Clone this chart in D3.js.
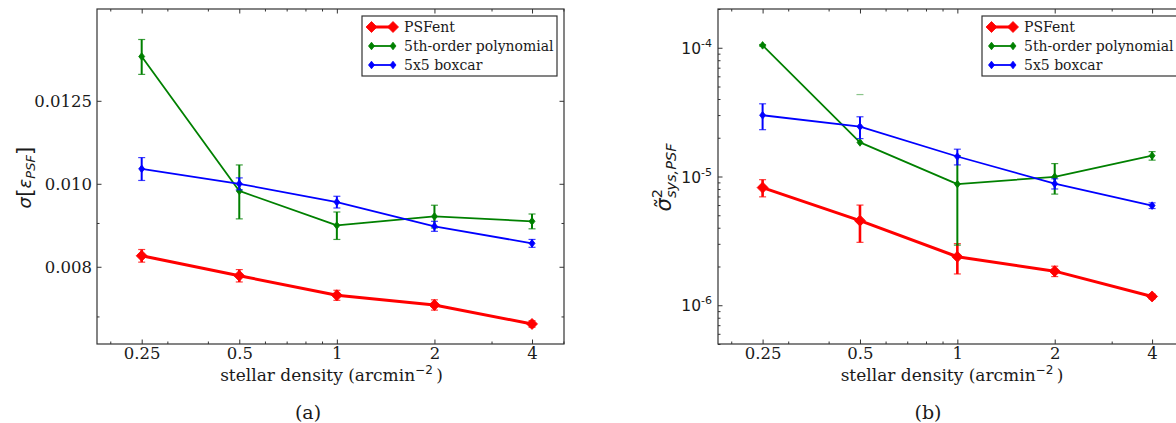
<!DOCTYPE html>
<html><head><meta charset="utf-8">
<script src="https://cdn.jsdelivr.net/npm/d3@7"></script>
<style>body{margin:0;background:#fff} svg{display:block}</style>
</head><body><svg id="c" width="1176" height="423"></svg>
<script>
// ---------- data ----------
const densities = [0.25, 0.5, 1, 2, 4];
const densityLabels = ["0.25", "0.5", "1", "2", "4"];
const densityMinorTicks = [0.2, 0.3, 0.4, 0.6, 0.7, 0.8, 0.9, 3, 5];
const seriesNames = ["PSFent", "5th-order polynomial", "5x5 boxcar"];

// panel (a): sigma[eps_PSF]
const psfentSigma    = [0.00824, 0.00781, 0.00741, 0.00722, 0.00686];
const psfentSigmaErr = [0.00014, 0.00013, 0.00010, 0.00010, 0.00006];
const polySigma      = [0.01408, 0.00981, 0.00894, 0.00916, 0.00904];
const polySigmaErr   = [0.00066, 0.00071, 0.00033, 0.00028, 0.00018];
const boxcarSigma    = [0.01041, 0.01000, 0.00952, 0.00892, 0.00852];
const boxcarSigmaErr = [0.00032, 0.00016, 0.00015, 0.00012, 0.00009];
const sigmaTicks      = [0.008, 0.010, 0.0125];
const sigmaTickLabels = ["0.008", "0.010", "0.0125"];
const sigmaMinorTicks = [0.007, 0.009];

// panel (b): sigma~^2_sys,PSF
const psfentSys    = [8.2e-6, 4.54e-6, 2.38e-6, 1.84e-6, 1.17e-6];
const psfentSysErr = [1.25e-6, 1.46e-6, 0.63e-6, 0.17e-6, 0.05e-6];
const polySys      = [1.044e-4, 1.84e-5, 8.73e-6, 9.95e-6, 1.45e-5];
const polySysErr   = [1.5e-6, 2.49e-5, 5.8e-6, 2.65e-6, 1.1e-6];
const boxcarSys    = [2.99e-5, 2.44e-5, 1.43e-5, 8.8e-6, 5.94e-6];
const boxcarSysErr = [6.8e-6, 4.7e-6, 2.0e-6, 0.8e-6, 0.3e-6];
const sysTicks = [1e-6, 1e-5, 1e-4];
const sysTickExponents = ["-6", "-5", "-4"];

// ---------- drawing ----------
const svg = d3.select('#c');
svg.append('rect').attr('width', 1176).attr('height', 423).attr('fill', '#fff');
const serif = "'DejaVu Serif', serif";
const sans = "'DejaVu Sans', sans-serif";
const axisColor = '#333';
const textColor = '#1a1a1a';
const colors = ['#ff0000', '#008000', '#0000ff'];
const styles = [
  {lw: 3, elw: 2.6, rx: 5.5, ry: 5.5},
  {lw: 1.8, elw: 2, rx: 3, ry: 3.8},
  {lw: 1.8, elw: 2, rx: 3, ry: 3.8}
];

function diamond(cx, cy, rx, ry) {
  return `M${cx},${cy - ry}L${cx + rx},${cy}L${cx},${cy + ry}L${cx - rx},${cy}Z`;
}

function drawPanel(p) {
  const g = svg.append('g');
  const x = d3.scaleLog().base(2).domain([0.182, 5.02]).range([p.x0, p.x1]);
  const y = d3.scaleLog().domain(p.yDomain).range([p.y1, p.y0]);

  function axisG(axis, tx, ty) {
    const a = g.append('g').attr('transform', `translate(${tx},${ty})`).call(axis);
    a.select('.domain').remove();
    a.selectAll('line').attr('stroke', axisColor).attr('stroke-width', 1);
    a.attr('font-family', serif).attr('font-size', 16.5);
    a.selectAll('text').attr('fill', textColor);
    return a;
  }
  // x axis bottom and top
  axisG(d3.axisBottom(x).tickValues(densities).tickFormat((d, i) => densityLabels[i]).tickSize(-4.5).tickPadding(3.5), 0, p.y1);
  axisG(d3.axisBottom(x).tickValues(densityMinorTicks).tickFormat('').tickSize(-2.5), 0, p.y1);
  axisG(d3.axisTop(x).tickValues(densities).tickFormat('').tickSize(-4.5), 0, p.y0);
  axisG(d3.axisTop(x).tickValues(densityMinorTicks).tickFormat('').tickSize(-2.5), 0, p.y0);
  // y axis left and right
  const yl = d3.axisLeft(y).tickValues(p.yTicks).tickSize(-4.5).tickPadding(5);
  if (p.yTickLabels) yl.tickFormat((d, i) => p.yTickLabels[i]); else yl.tickFormat('');
  axisG(yl, p.x0, 0);
  axisG(d3.axisLeft(y).tickValues(p.yMinor).tickFormat('').tickSize(-2.5), p.x0, 0);
  axisG(d3.axisRight(y).tickValues(p.yTicks).tickFormat('').tickSize(-4.5), p.x1, 0);
  axisG(d3.axisRight(y).tickValues(p.yMinor).tickFormat('').tickSize(-2.5), p.x1, 0);

  if (p.yTickExponents) {
    p.yTicks.forEach((t, i) => {
      const tx = g.append('text').attr('x', p.x0 - 6).attr('y', y(t) + 6)
        .attr('text-anchor', 'end').attr('font-family', sans).attr('font-size', 15.5).attr('fill', textColor);
      tx.append('tspan').text('10');
      tx.append('tspan').attr('font-size', 11).attr('dy', -7).text(p.yTickExponents[i]);
    });
  }

  // frame
  g.append('rect').attr('x', p.x0).attr('y', p.y0).attr('width', p.x1 - p.x0).attr('height', p.y1 - p.y0)
    .attr('fill', 'none').attr('stroke', axisColor).attr('stroke-width', 1.2);

  // series
  const line = d3.line().x(d => x(d[0])).y(d => y(d[1]));
  p.series.forEach((s, si) => {
    const st = styles[si], col = colors[si];
    const sg = g.append('g');
    const pts = densities.map((d, i) => [d, s.values[i]]);
    sg.append('path').attr('d', line(pts)).attr('fill', 'none').attr('stroke', col)
      .attr('stroke-width', st.lw).attr('stroke-linejoin', 'round');
    // error bars
    densities.forEach((d, i) => {
      const v = s.values[i], e = s.errs[i];
      const cx = x(d);
      const hi = v + e, lo = v - e;
      const cw = 3.5;
      if (lo > 0) {
        sg.append('line').attr('x1', cx).attr('x2', cx).attr('y1', y(lo)).attr('y2', y(hi))
          .attr('stroke', col).attr('stroke-width', st.elw);
        sg.append('line').attr('x1', cx - cw).attr('x2', cx + cw).attr('y1', y(lo)).attr('y2', y(lo))
          .attr('stroke', col).attr('stroke-width', 1.2).attr('opacity', 0.75);
      }
      sg.append('line').attr('x1', cx - cw).attr('x2', cx + cw).attr('y1', y(hi)).attr('y2', y(hi))
        .attr('stroke', col).attr('stroke-width', 1.2).attr('opacity', lo > 0 ? 0.75 : 0.45);
    });
    pts.forEach(pt => {
      sg.append('path').attr('d', diamond(x(pt[0]), y(pt[1]), st.rx, st.ry)).attr('fill', col).attr('stroke', col).attr('stroke-width', 0.8);
    });
  });

  // legend
  const lw = 195, lh = 60;
  const lx = p.x1 - 7 - lw, ly = p.y0 + 7;
  const lg = g.append('g');
  lg.append('rect').attr('x', lx).attr('y', ly).attr('width', lw).attr('height', lh)
    .attr('fill', '#fff').attr('stroke', axisColor).attr('stroke-width', 1.2);
  seriesNames.forEach((name, i) => {
    const cy = ly + 11 + i * 19;
    const st = styles[i], col = colors[i];
    const hx0 = lx + 9.5, hx1 = lx + 31;
    lg.append('line').attr('x1', hx0).attr('x2', hx1).attr('y1', cy).attr('y2', cy).attr('stroke', col).attr('stroke-width', st.lw);
    [hx0, hx1].forEach(hx => lg.append('path').attr('d', diamond(hx, cy, st.rx, st.ry)).attr('fill', col).attr('stroke', col).attr('stroke-width', 0.8));
    lg.append('text').attr('x', lx + 42).attr('y', cy).attr('dy', '0.35em')
      .attr('font-family', serif).attr('font-size', 14).attr('fill', textColor).text(name);
  });

  // x label
  const xl = g.append('text').attr('x', (p.x0 + p.x1) / 2 + 1).attr('y', 381).attr('text-anchor', 'middle')
    .attr('font-family', serif).attr('font-size', 17).attr('fill', textColor);
  xl.append('tspan').text('stellar density (arcmin');
  xl.append('tspan').attr('font-family', sans).attr('font-size', 12).attr('dy', -7).text('\u22122');
  xl.append('tspan').attr('dy', 7).text('\u2009)');

  // y label
  p.ylabel(g.append('g').attr('transform', `translate(${p.ylx},${(p.y0 + p.y1) / 2 + 1})`).append('g').attr('transform', 'rotate(-90)'));

  // caption
  g.append('text').attr('x', p.capX).attr('y', 419).attr('text-anchor', 'middle')
    .attr('font-family', serif).attr('font-size', 19).attr('fill', textColor).text(p.caption);
}

function decadeMinors(lo, hi) {
  const out = [];
  for (let e = Math.floor(Math.log10(lo)); e <= Math.ceil(Math.log10(hi)); e++)
    for (let k = 2; k <= 9; k++) { const v = k * Math.pow(10, e); if (v >= lo && v <= hi) out.push(v); }
  return out;
}

drawPanel({
  x0: 97, x1: 564, y0: 9, y1: 344,
  yDomain: [0.0065, 0.016],
  yTicks: sigmaTicks, yTickLabels: sigmaTickLabels, yMinor: sigmaMinorTicks,
  series: [
    {values: psfentSigma, errs: psfentSigmaErr},
    {values: polySigma, errs: polySigmaErr},
    {values: boxcarSigma, errs: boxcarSigmaErr}
  ],
  ylx: 31, caption: '(a)', capX: 308,
  ylabel: (lg) => {
    const t = lg.append('text').attr('text-anchor', 'middle').attr('font-family', sans).attr('font-size', 18).attr('fill', textColor);
    t.append('tspan').attr('font-style', 'italic').text('\u03c3');
    t.append('tspan').attr('font-size', 22).attr('dy', 1).text('[');
    t.append('tspan').attr('font-style', 'italic').attr('dy', -1).text('\u03b5');
    t.append('tspan').attr('font-style', 'italic').attr('font-size', 13).attr('dy', 4).text('PSF');
    t.append('tspan').attr('font-size', 22).attr('dy', -3).text(']');
  }
});

drawPanel({
  x0: 718, x1: 1184, y0: 9, y1: 344,
  yDomain: [5e-7, 2e-4],
  yTicks: sysTicks, yTickExponents: sysTickExponents, yMinor: decadeMinors(5e-7, 2e-4),
  series: [
    {values: psfentSys, errs: psfentSysErr},
    {values: polySys, errs: polySysErr},
    {values: boxcarSys, errs: boxcarSysErr}
  ],
  ylx: 671, caption: '(b)', capX: 928,
  ylabel: (lg) => {
    const t = lg.append('text').attr('text-anchor', 'middle').attr('font-family', sans).attr('font-size', 21).attr('fill', textColor);
    t.append('tspan').attr('font-style', 'italic').text('\u03c3\u0303');
    t.append('tspan').attr('font-size', 14.5).attr('dy', -9).text('2');
    t.append('tspan').attr('font-style', 'italic').attr('font-size', 14.5).attr('dx', -9.2).attr('dy', 14).text('sys,PSF');
  }
});
</script></body></html>
